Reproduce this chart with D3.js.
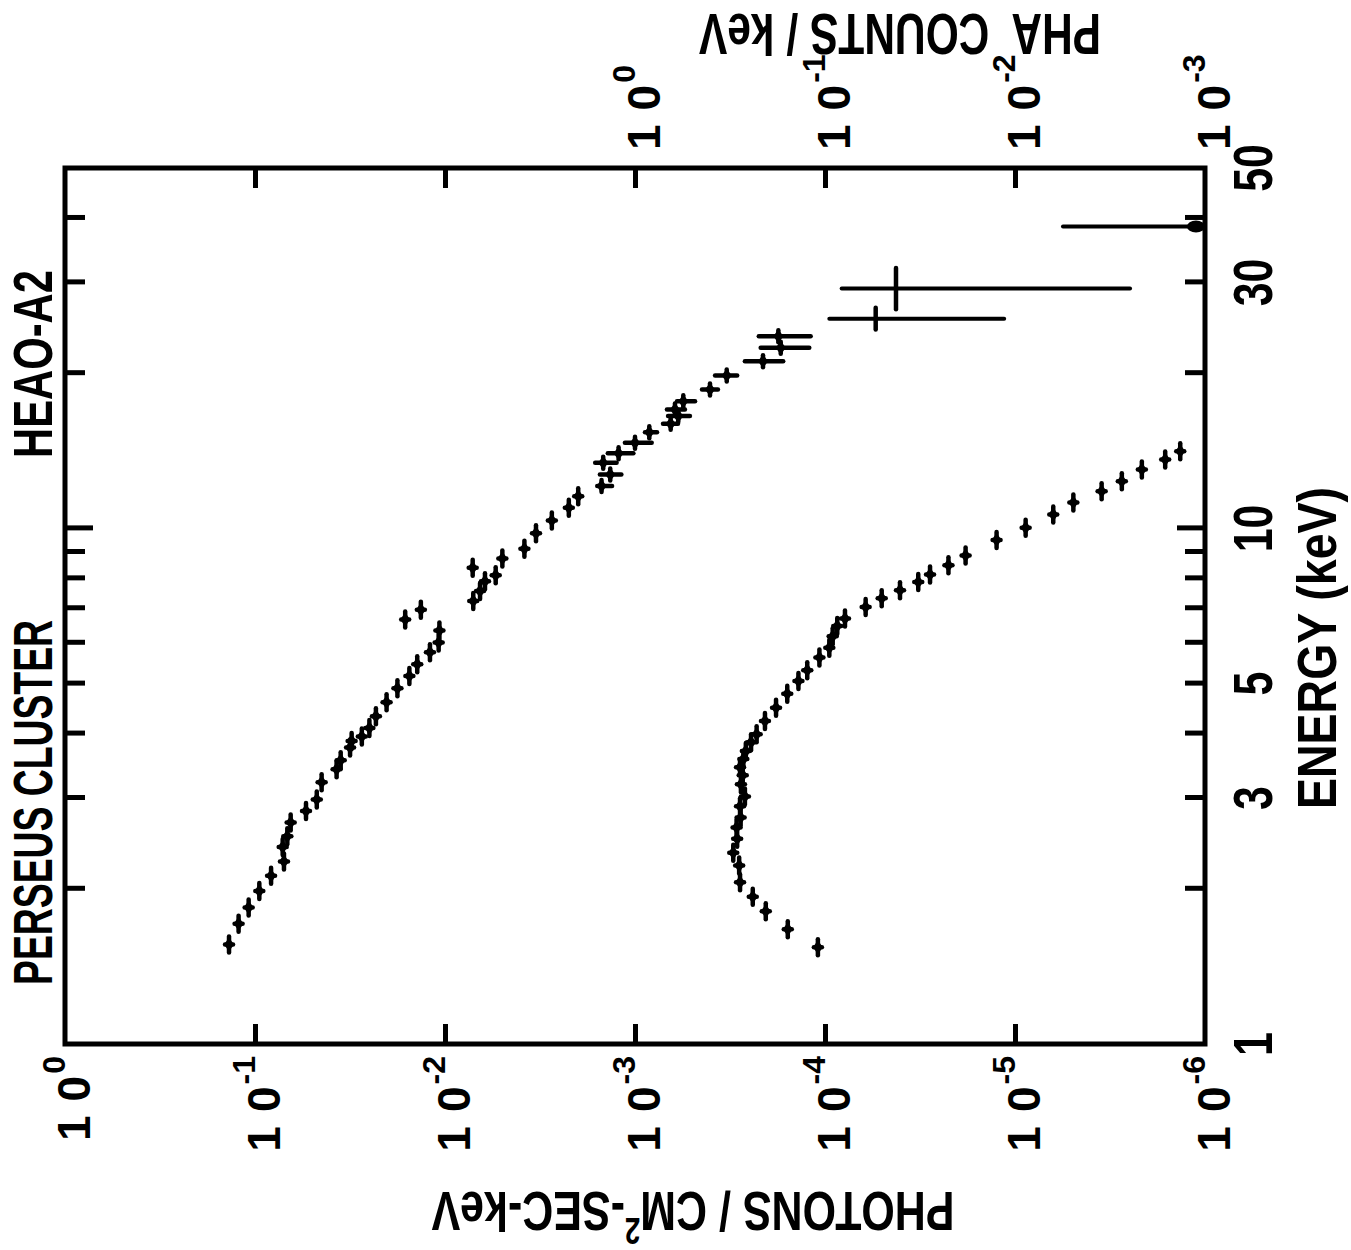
<!DOCTYPE html>
<html>
<head>
<meta charset="utf-8">
<script src="https://cdn.jsdelivr.net/npm/d3@7"></script>
<style>
  body { margin: 0; background: #fff; }
  text { font-family: "Liberation Sans", Arial, sans-serif; font-weight: bold; fill: #000; }
</style>
</head>
<body>
<svg id="chart" width="1351" height="1250"></svg>
<script>
// Photon spectrum (photons / cm2-sec-keV), plain points
const photonEnergy = [1.56,1.71,1.84,1.98,2.12,2.26,2.41,2.53,2.69,2.83,2.98,3.22,3.41,3.55,3.76,3.87,3.95,4.10,4.32,4.60,
  4.90,5.17,5.45,5.75,6.01,6.34,6.66,6.95,7.23,7.56,7.90,8.11,8.39,8.74,9.13,9.78,10.36,10.97,11.55];
const photonFlux = [0.137,0.122,0.108,0.0949,0.0823,0.0704,0.0715,0.0676,0.0649,0.0539,0.0473,0.0446,0.0372,0.0354,0.0316,0.0310,0.0274,0.0250,0.0231,0.0203,
  0.0178,0.0154,0.0140,0.0120,0.0108,0.0107,0.0162,0.0134,0.00710,0.00654,0.00616,0.00541,0.00715,0.00499,0.00382,0.00332,0.00274,0.00223,0.00199];

// Photon points with flux error bars
const errEnergy = [12.08,12.72,13.41,13.98,14.66,15.37,15.95,16.51,17.01,17.65,18.60,19.80,21.10,22.40,23.59];
const errFlux = [0.00150,0.00135,0.00147,0.00122,0.00100,0.000841,0.000649,0.000592,0.000616,0.000557,0.000403,0.000329,0.000212,0.000171,0.000176];
const errHigh = [0.00158,0.00153,0.00162,0.00139,0.00113,0.000886,0.000712,0.000670,0.000679,0.000601,0.000444,0.000379,0.000264,0.000218,0.000223];
const errLow = [0.00132,0.00118,0.00125,0.00102,0.000817,0.000766,0.000594,0.000514,0.000546,0.000483,0.000366,0.000290,0.000166,0.000121,0.000119];

// Wide high-energy bins
const wideEnergy = [25.5, 29.2];
const wideELow = [24.3, 26.6];
const wideEHigh = [26.8, 32.0];
const wideFlux = [5.41e-5, 4.23e-5];
const wideFHigh = [9.49e-5, 8.17e-5];
const wideFLow = [1.14e-5, 2.48e-6];

// Upper limit near 40 keV
const limitEnergy = [38.5];
const limitFlux = [5.59e-6];

// PHA counts / keV
const phaEnergy = [1.54,1.67,1.81,1.93,2.06,2.22,2.35,2.50,2.63,2.75,2.89,3.02,3.19,3.32,3.44,3.57,3.70,3.85,3.99,4.23,
  4.49,4.78,5.06,5.31,5.62,5.87,6.18,6.47,6.69,7.04,7.32,7.59,7.87,8.14,8.48,8.86,9.49,10.03,10.64,11.22,11.81,12.35,13.01,13.60,14.12];
const phaCounts = [0.109,0.157,0.205,0.240,0.280,0.283,0.304,0.290,0.292,0.278,0.280,0.264,0.277,0.271,0.280,0.269,0.261,0.245,0.229,0.207,
  0.181,0.158,0.138,0.124,0.107,0.0949,0.0911,0.0862,0.0785,0.0611,0.0503,0.0403,0.0323,0.0280,0.0224,0.0182,0.0125,0.00879,0.00629,0.00493,
  0.00350,0.00274,0.00215,0.00162,0.00135];

// Axis ticks and labels
const energyTicks = [2,3,4,5,6,7,8,9,10,20,30,40];
const energyLabels = [1,3,5,10,30,50];
const fluxTicks = [1e-1,1e-2,1e-3,1e-4,1e-5];
const fluxExponents = [0,-1,-2,-3,-4,-5,-6];
const phaExponents = [0,-1,-2,-3];

const svg = d3.select('#chart');
svg.append('rect').attr('width', 1351).attr('height', 1250).attr('fill', '#fff');

// The figure is drawn upright and then turned a quarter turn, as in the scan
const g = svg.append('g').attr('transform', 'translate(0,1250) rotate(-90)');

const x = d3.scaleLog().domain([1, 50]).range([206, 1082]);
const y = d3.scaleLog().domain([1, 1e-6]).range([65, 1205]);
const yPha = d3.scaleLog().domain([1e3, 1e-3]).range([65, 1205]);

// frame
g.append('rect')
  .attr('x', 206).attr('y', 65)
  .attr('width', 876).attr('height', 1140)
  .attr('fill', 'none').attr('stroke', '#000').attr('stroke-width', 5);

function styleTicks(sel) {
  sel.select('.domain').remove();
  sel.selectAll('.tick line').attr('stroke', '#000').attr('stroke-width', 5);
  sel.selectAll('.tick line').filter(d => d === 10).attr('y2', function () {
    return +d3.select(this).attr('y2') * 1.4;
  });
}

g.append('g').attr('transform', 'translate(0,1205)')
  .call(d3.axisBottom(x).tickValues(energyTicks).tickSize(-20).tickFormat(''))
  .call(styleTicks);
g.append('g').attr('transform', 'translate(0,65)')
  .call(d3.axisTop(x).tickValues(energyTicks).tickSize(-20).tickFormat(''))
  .call(styleTicks);
g.append('g').attr('transform', 'translate(206,0)')
  .call(d3.axisLeft(y).tickValues(fluxTicks).tickSize(-20).tickFormat(''))
  .call(styleTicks);
g.append('g').attr('transform', 'translate(1082,0)')
  .call(d3.axisRight(y).tickValues(fluxTicks).tickSize(-20).tickFormat(''))
  .call(styleTicks);

// energy labels (narrow lettering)
g.selectAll('.elabel').data(energyLabels).enter().append('text')
  .attr('class', 'elabel')
  .attr('transform', d => `translate(${x(d)},1272) scale(0.78,1)`)
  .attr('text-anchor', 'middle')
  .attr('font-size', 55)
  .text(d => d);

g.append('text')
  .attr('x', 602).attr('y', 1336)
  .attr('text-anchor', 'middle')
  .attr('font-size', 56)
  .attr('textLength', 322).attr('lengthAdjust', 'spacingAndGlyphs')
  .text('ENERGY (keV)');

// power-of-ten labels
function powerLabel(sel) {
  sel.append('tspan').attr('letter-spacing', 14).text('10');
  sel.append('tspan').attr('dx', -12).attr('dy', -25).attr('font-size', 32)
    .text(d => d === 0 ? '0' : '-' + (-d));
}

g.selectAll('.flabel').data(fluxExponents).enter().append('text')
  .attr('class', 'flabel')
  .attr('x', 194).attr('y', d => y(Math.pow(10, d)) + 25)
  .attr('text-anchor', 'end')
  .attr('font-size', 46)
  .call(powerLabel);

g.selectAll('.plabel').data(phaExponents).enter().append('text')
  .attr('class', 'plabel')
  .attr('x', 1100).attr('y', d => yPha(Math.pow(10, d)) + 25)
  .attr('text-anchor', 'start')
  .attr('font-size', 46)
  .call(powerLabel);

// axis titles
const t1 = g.append('text')
  .attr('transform', 'translate(58,693) rotate(-90)')
  .attr('text-anchor', 'middle')
  .attr('font-size', 56)
  .attr('textLength', 523).attr('lengthAdjust', 'spacingAndGlyphs');
t1.append('tspan').text('PHOTONS / CM');
t1.append('tspan').attr('dy', -26).attr('font-size', 36).text('2');
t1.append('tspan').attr('dy', 26).text('-SEC-keV');

g.append('text')
  .attr('transform', 'translate(1236,900) rotate(-90)')
  .attr('text-anchor', 'middle')
  .attr('font-size', 58)
  .attr('textLength', 402).attr('lengthAdjust', 'spacingAndGlyphs')
  .attr('xml:space', 'preserve')
  .text('PHA  COUNTS / keV');

// titles inside the upper margin
g.append('text').attr('x', 265).attr('y', 52).attr('font-size', 56)
  .attr('textLength', 365).attr('lengthAdjust', 'spacingAndGlyphs')
  .text('PERSEUS CLUSTER');
g.append('text').attr('x', 792).attr('y', 52).attr('font-size', 56)
  .attr('textLength', 188).attr('lengthAdjust', 'spacingAndGlyphs')
  .text('HEAO-A2');

// markers
function marker(parent, px, py, ex, eyTop, eyBottom) {
  parent.append('path')
    .attr('d', `M${px - 7},${py} L${px},${py - 5} L${px + 7},${py} L${px},${py + 5} Z`)
    .attr('fill', '#000');
  parent.append('line')
    .attr('x1', px - ex).attr('x2', px + ex).attr('y1', py).attr('y2', py)
    .attr('stroke', '#000').attr('stroke-width', 4.5).attr('stroke-linecap', 'round');
  parent.append('line')
    .attr('x1', px).attr('x2', px).attr('y1', eyTop).attr('y2', eyBottom)
    .attr('stroke', '#000').attr('stroke-width', 4.5).attr('stroke-linecap', 'round');
}

const marks = g.append('g');
photonEnergy.forEach((e, i) => {
  const py = y(photonFlux[i]);
  marker(marks, x(e), py, 8, py - 4, py + 4);
});
errEnergy.forEach((e, i) => {
  marker(marks, x(e), y(errFlux[i]), 6, y(errHigh[i]), y(errLow[i]));
});
wideEnergy.forEach((e, i) => {
  const px = x(e), py = y(wideFlux[i]);
  marks.append('line')
    .attr('x1', x(wideELow[i])).attr('x2', x(wideEHigh[i])).attr('y1', py).attr('y2', py)
    .attr('stroke', '#000').attr('stroke-width', 4.5).attr('stroke-linecap', 'round');
  marks.append('line')
    .attr('x1', px).attr('x2', px).attr('y1', y(wideFHigh[i])).attr('y2', y(wideFLow[i]))
    .attr('stroke', '#000').attr('stroke-width', 4).attr('stroke-linecap', 'round');
});
limitEnergy.forEach((e, i) => {
  const px = x(e);
  marks.append('line')
    .attr('x1', px).attr('x2', px).attr('y1', y(limitFlux[i])).attr('y2', y(1e-6) - 8)
    .attr('stroke', '#000').attr('stroke-width', 4).attr('stroke-linecap', 'round');
  marks.append('ellipse')
    .attr('cx', px).attr('cy', y(1e-6) - 9).attr('rx', 6).attr('ry', 9)
    .attr('fill', '#000');
});
phaEnergy.forEach((e, i) => {
  const py = yPha(phaCounts[i]);
  marker(marks, x(e), py, 8, py - 4, py + 4);
});
</script>
</body>
</html>
